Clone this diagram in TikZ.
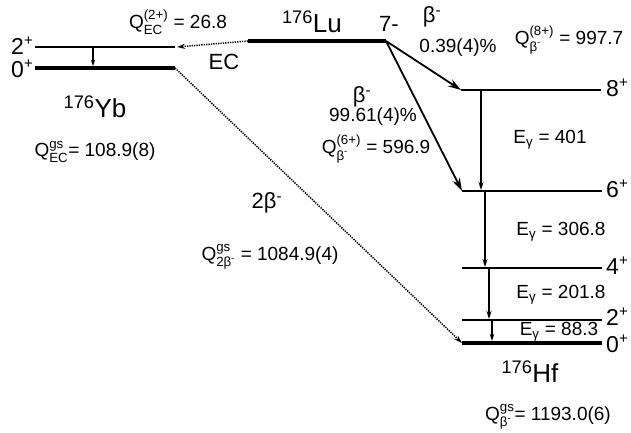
\documentclass[tikz,border=0pt]{standalone}
\usepackage{fontspec}
\usepackage{amsmath}
\setmainfont{Liberation Sans}
\usetikzlibrary{arrows.meta}
\newcommand\QQ[2]{Q$^{\text{#1}}_{\text{#2}}$}
\newcommand\betam{β\textsuperscript{-}}
\newcommand\spl{\raisebox{0.75ex}{\fontsize{15}{15}\selectfont +}}
\begin{document}
\begin{tikzpicture}[x=1pt,y=-1pt,
  lvl/.style={line width=1.5pt},
  gsl/.style={line width=4pt},
  gam/.style={line width=1.5pt,-{Stealth[length=8pt,width=5pt]}},
  bet/.style={line width=1.8pt,-{Stealth[length=13pt,width=8pt]}},
  dot/.style={line width=1.5pt,dash pattern=on 1.3pt off 1.1pt,-{Stealth[length=8pt,width=5pt]}},
  lab/.style={font=\fontsize{19}{22}\selectfont,inner sep=0pt},
  big/.style={font=\fontsize{22}{26}\selectfont,inner sep=0pt},
  lev/.style={font=\fontsize{23}{26}\selectfont,inner sep=0pt},
  iso/.style={font=\fontsize{26}{30}\selectfont,inner sep=0pt}]
\useasboundingbox (0,0) rectangle (631,432);
% coordinates
\coordinate (yb2l) at (35,47); \coordinate (yb2r) at (175,47);
\coordinate (yb0l) at (35,68); \coordinate (yb0r) at (175,68);
\coordinate (lul) at (248,41); \coordinate (lur) at (386,41);
\coordinate (h8l) at (461,90); \coordinate (h8r) at (601,90);
\coordinate (h6l) at (462,191); \coordinate (h6r) at (602,191);
\coordinate (h4l) at (462,268); \coordinate (h4r) at (602,268);
\coordinate (h2l) at (462,320); \coordinate (h2r) at (602,320);
\coordinate (h0l) at (462,343); \coordinate (h0r) at (602,343);
% levels
\draw[lvl] (yb2l) -- (yb2r);
\draw[gsl] (yb0l) -- (yb0r);
\draw[gsl] (lul) -- (lur);
\draw[lvl] (h8l) -- (h8r);
\draw[lvl] (h6l) -- (h6r);
\draw[lvl] (h4l) -- (h4r);
\draw[lvl] (h2l) -- (h2r);
\draw[gsl] (h0l) -- (h0r);
% gamma transitions
\coordinate (gyb1) at (93,47); \coordinate (gyb2) at (93,66);
\draw[gam,line width=1.2pt,-{Stealth[length=6pt,width=4pt]}] (gyb1) -- (gyb2);
\coordinate (g1a) at (481,90); \coordinate (g1b) at (481,190);
\coordinate (g2a) at (485,191); \coordinate (g2b) at (485,267);
\coordinate (g3a) at (489,268); \coordinate (g3b) at (489,319);
\coordinate (g4a) at (492,320); \coordinate (g4b) at (492,341);
\draw[gam] (g1a) -- (g1b);
\draw[gam] (g2a) -- (g2b);
\draw[gam] (g3a) -- (g3b);
\draw[gam,-{Stealth[length=7pt,width=4.5pt]}] (g4a) -- (g4b);
% beta transitions
\draw[bet] (lur) -- (h8l);
\draw[bet] (lur) -- (h6l);
\coordinate (ecend) at (177,47);
\draw[dot] (lul) -- (ecend);
\draw[dot] (yb0r) -- (h0l);
% level labels
\node[lev,anchor=east] (l2y) at (33,46) {2\spl};
\node[lev,anchor=east] (l0y) at (33,69) {0\spl};
\node[lev,anchor=west] (l8) at (606,88) {8\spl};
\node[lev,anchor=west] (l6) at (606,189) {6\spl};
\node[lev,anchor=west] (l4) at (606,266) {4\spl};
\node[lev,anchor=west] (l2) at (606,317) {2\spl};
\node[lev,anchor=west] (l0) at (606,344) {0\spl};
\node[big] (s7) at (389,24) {7-};
% isotopes
\node[iso] (nyb) at (95,107) {\textsuperscript{176}Yb};
\node[iso] (nlu) at (312,22) {\textsuperscript{176}Lu};
\node[iso] (nhf) at (530,372) {\textsuperscript{176}Hf};
% other labels
\node[lab] (qec2) at (178,22) {\QQ{(2+)}{EC} = 26.8};
\node[big] (ec) at (224,62) {EC};
\node[lab] (qecgs) at (95,152) {\QQ{gs}{EC}= 108.9(8)};
\node[big] (b1) at (432,17) {\betam};
\node[lab] (p1) at (458,48) {0.39(4)\%};
\node[lab] (q8) at (569,40) {\QQ{(8+)}{\betam} = 997.7};
\node[big] (b2) at (362,97) {\betam};
\node[lab] (p2) at (373,117) {99.61(4)\%};
\node[lab] (q6) at (376,149) {\QQ{(6+)}{\betam} = 596.9};
\node[big] (b2b) at (267,203) {2\betam};
\node[lab] (q2b) at (270,257) {\QQ{gs}{2\betam} = 1084.9(4)};
\node[lab] (e1) at (550,140) {E$_{\text{γ}}$ = 401};
\node[lab] (e2) at (561,232) {E$_{\text{γ}}$ = 306.8};
\node[lab] (e3) at (561,295) {E$_{\text{γ}}$ = 201.8};
\node[lab] (e4) at (559,332) {E$_{\text{γ}}$ = 88.3};
\node[lab] (qhf) at (548,417) {\QQ{gs}{\betam}= 1193.0(6)};
\end{tikzpicture}
\end{document}
